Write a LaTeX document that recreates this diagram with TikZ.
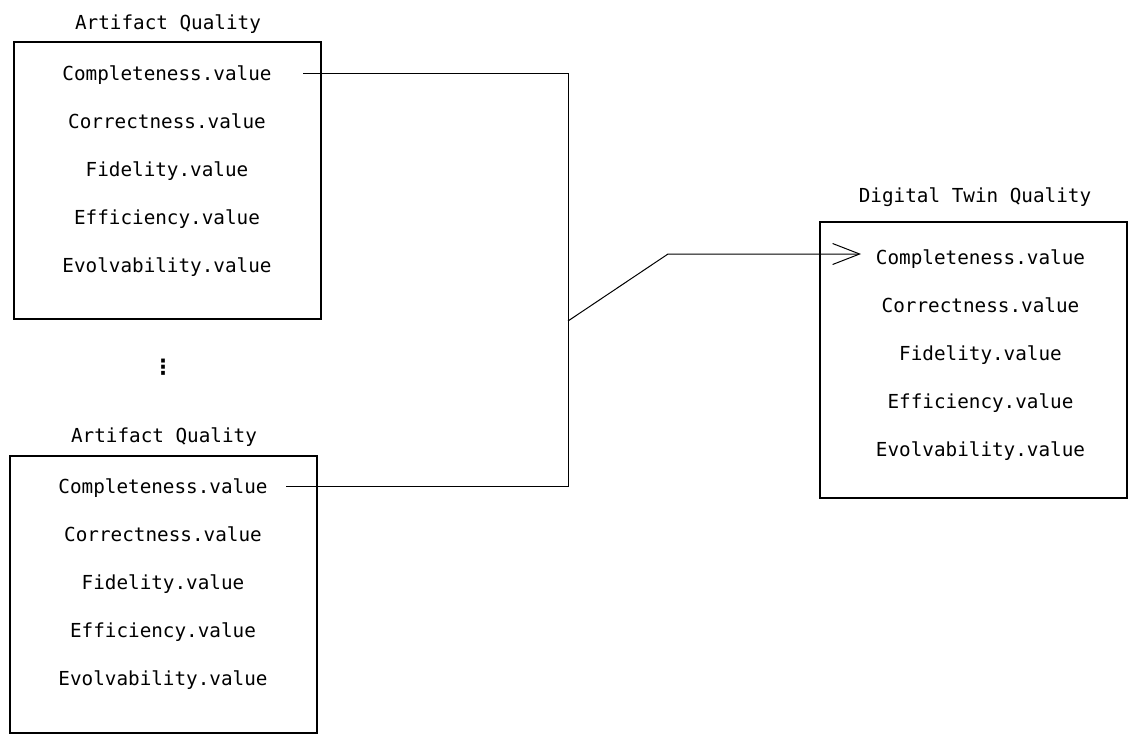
\documentclass[tikz,border=0pt]{standalone}
\usepackage{fontspec}
\setmonofont{DejaVu Sans Mono}
\newfontfamily\dejasans{DejaVu Sans}
\usetikzlibrary{arrows.meta}
\begin{document}
\begin{tikzpicture}[x=1pt,y=-1pt,
  txt/.style={font=\ttfamily\fontsize{19.3}{22}\selectfont, inner sep=0pt, anchor=base},
  box/.style={draw, line width=1.3pt, inner sep=0pt},
  conn/.style={line width=1pt},
  arr/.style={line width=1pt, -{Straight Barb[length=27pt,width=21pt,line width=1pt]}}]
\useasboundingbox (0,0) rectangle (1137,742);
% boxes
\node[box, minimum width=307pt, minimum height=277pt] (boxA) at (167.5,180.5) {};
\node[box, minimum width=307pt, minimum height=277pt] (boxB) at (163.5,594.5) {};
\node[box, minimum width=307pt, minimum height=276pt] (boxC) at (973.5,360) {};
% titles
\node[txt] (tA) at (168,29) {Artifact Quality};
\node[txt] (tB) at (164,442) {Artifact Quality};
\node[txt] (tC) at (975,202) {Digital Twin Quality};
% rows A
\node[txt] (a1) at (167,80) {Completeness.value};
\node[txt] (a2) at (167,128) {Correctness.value};
\node[txt] (a3) at (167,176) {Fidelity.value};
\node[txt] (a4) at (167,224) {Efficiency.value};
\node[txt] (a5) at (167,272) {Evolvability.value};
% rows B
\node[txt] (b1) at (163,493) {Completeness.value};
\node[txt] (b2) at (163,541) {Correctness.value};
\node[txt] (b3) at (163,589) {Fidelity.value};
\node[txt] (b4) at (163,637) {Efficiency.value};
\node[txt] (b5) at (163,685) {Evolvability.value};
% rows C
\node[txt] (c1) at (980.5,264) {Completeness.value};
\node[txt] (c2) at (980.5,312) {Correctness.value};
\node[txt] (c3) at (980.5,360) {Fidelity.value};
\node[txt] (c4) at (980.5,408) {Efficiency.value};
\node[txt] (c5) at (980.5,456) {Evolvability.value};
% ellipsis
\node[inner sep=0pt, font=\dejasans\bfseries\fontsize{21}{24}\selectfont] (dots) at (163,367) {⋮};
% connector points
\coordinate (sA) at (303,73.5);
\coordinate (sB) at (286,486.5);
\coordinate (jTop) at (568,73.5);
\coordinate (jBot) at (568,486.5);
\coordinate (jMid) at (568,321);
\coordinate (bend) at (668,254);
\coordinate (tip) at (861,254);
\draw[conn] (sA) -- (jTop) -- (jBot) -- (sB);
\draw[arr] (jMid) -- (bend) -- (tip);
\end{tikzpicture}
\end{document}
